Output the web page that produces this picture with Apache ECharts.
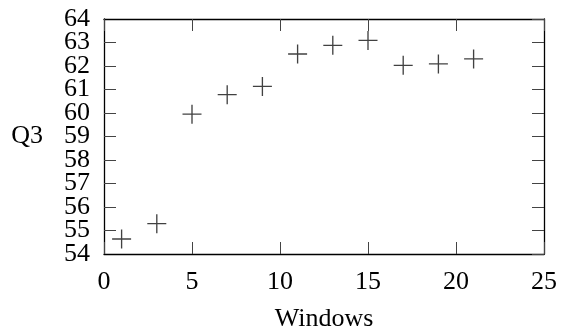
<!DOCTYPE html>
<html>
<head>
    <meta charset="UTF-8">
    <title>Q3 vs Windows</title>
    <script src="https://cdn.jsdelivr.net/npm/echarts@6/dist/echarts.min.js"></script>
</head>
<style>
    html, body { margin: 0; padding: 0; background: #fff; }
    #chart { width: 563px; height: 332px; }
</style>
<body>
<div id="chart"></div>
<script>
// data
const windows = [1, 3, 5, 7, 9, 11, 13, 15, 17, 19, 21];
const q3 = [54.64, 55.29, 59.95, 60.78, 61.13, 62.51, 62.88, 63.09, 62.03, 62.09, 62.30];
const xTicks = [0, 5, 10, 15, 20, 25];
const yTicks = [54, 55, 56, 57, 58, 59, 60, 61, 62, 63, 64];

const serif = 'Liberation Serif';
const plus = 'path://M9.3,0 h1.4 v9.3 h9.3 v1.4 h-9.3 v9.3 h-1.4 v-9.3 h-9.3 v-1.4 h9.3 z';

const tickStyle = { show: true, inside: true, length: 12, lineStyle: { color: '#444', width: 1 } };
const lineStyle = { show: true, onZero: false, lineStyle: { color: '#000', width: 1.3 } };
const labelFont = { fontFamily: serif, fontSize: 26, color: '#000' };
const yMin = yTicks[0], yMax = yTicks[yTicks.length - 1];

const chart = echarts.init(document.getElementById('chart'));
chart.setOption({
    animation: false,
    grid: { left: 104, right: 19, top: 19, bottom: 78, containLabel: false, outerBoundsMode: 'none' },
    xAxis: [{
        type: 'value',
        min: xTicks[0], max: xTicks[xTicks.length - 1], interval: 5,
        name: 'Windows', nameLocation: 'middle', nameGap: 52,
        nameTextStyle: labelFont,
        axisLine: lineStyle, axisTick: tickStyle, splitLine: { show: false },
        axisLabel: Object.assign({ margin: 15, showMinLabel: true, showMaxLabel: true, hideOverlap: false }, labelFont)
    }, {
        type: 'value', position: 'top',
        min: xTicks[0], max: xTicks[xTicks.length - 1], interval: 5,
        axisLine: lineStyle, axisTick: tickStyle, splitLine: { show: false },
        axisLabel: { show: false }
    }],
    yAxis: [{
        // inner labels 55..63 (min/max would otherwise knock out their neighbours)
        type: 'value',
        min: yMin, max: yMax, interval: 1,
        name: 'Q3', nameLocation: 'middle', nameGap: 61, nameRotate: 0,
        nameTextStyle: labelFont,
        axisLine: lineStyle, axisTick: tickStyle, splitLine: { show: false },
        axisLabel: Object.assign({ margin: 14, showMinLabel: false, showMaxLabel: false, hideOverlap: false }, labelFont, { lineHeight: 12 })
    }, {
        type: 'value', position: 'right',
        min: yMin, max: yMax, interval: 1,
        axisLine: lineStyle, axisTick: tickStyle, splitLine: { show: false },
        axisLabel: { show: false }
    }, {
        // end labels 54 and 64
        type: 'value', position: 'left',
        min: yMin, max: yMax, interval: yMax - yMin,
        axisLine: { show: false }, axisTick: { show: false }, splitLine: { show: false },
        axisLabel: Object.assign({ margin: 14, showMinLabel: true, showMaxLabel: true, hideOverlap: false }, labelFont, { lineHeight: 12 })
    }],
    series: [{
        type: 'scatter',
        data: windows.map((w, i) => [w, q3[i]]),
        symbol: plus,
        symbolSize: 19,
        itemStyle: { color: '#111' }
    }]
});
</script>
</body>
</html>
